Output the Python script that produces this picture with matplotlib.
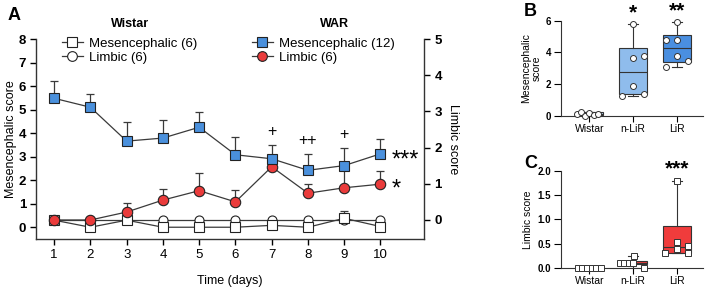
import numpy as np
import matplotlib
matplotlib.use("Agg")
import matplotlib.pyplot as plt
from matplotlib.lines import Line2D

plt.rcParams['font.family'] = ['Liberation Sans', 'DejaVu Sans']

# ---- Panel A data ----
days = [1, 2, 3, 4, 5, 6, 7, 8, 9, 10]
war_mes = [5.48, 5.10, 3.66, 3.79, 4.25, 3.08, 2.91, 2.42, 2.62, 3.12]
war_mes_err = [0.74, 0.55, 0.83, 0.75, 0.64, 0.74, 0.57, 0.69, 0.76, 0.61]
war_lim = [0.0, 0.0, 0.22, 0.55, 0.81, 0.50, 1.47, 0.74, 0.89, 0.99]
war_lim_err = [0.0, 0.0, 0.24, 0.30, 0.50, 0.32, 0.23, 0.25, 0.55, 0.36]
wis_mes = [0.30, 0.0, 0.30, 0.0, 0.0, 0.0, 0.08, 0.0, 0.38, 0.03]
wis_mes_err = [0.0, 0.0, 0.05, 0.0, 0.0, 0.0, 0.10, 0.0, 0.32, 0.0]
wis_lim = [0, 0, 0, 0, 0, 0, 0, 0, 0, 0]
wis_lim_err = [0, 0, 0, 0, 0, 0, 0, 0, 0, 0]
plus_marks = {7: '+', 8: '++', 9: '+'}

# ---- Panel B / C data ----
groups = ['Wistar', 'n-LiR', 'LiR']
mes_wistar = [0.10, 0.25, 0.0, 0.20, 0.05, 0.10]
mes_nlir = [5.8, 3.65, 3.75, 1.9, 1.25, 1.4]
mes_lir = [5.9, 4.8, 4.8, 3.8, 3.45, 3.1]
lim_wistar = [0, 0, 0, 0, 0, 0]
lim_nlir = [0.1, 0.1, 0.1, 0.1, 0.25, 0.0]
lim_lir = [1.8, 0.54, 0.39, 0.45, 0.30, 0.30]
stars_b = ['', '*', '**']
stars_c = ['', '', '***']

# horizontal scatter offsets of the dots (layout only)
jit_b = [[-0.29, -0.19, -0.09, 0.0, 0.10, 0.20],
         [0.0, 0.0, 0.25, 0.0, -0.25, 0.25],
         [0.0, -0.25, 0.0, 0.0, 0.25, -0.25]]
jit_c = [[-0.27, -0.16, -0.05, 0.05, 0.16, 0.27],
         [-0.30, -0.20, -0.10, 0.0, 0.02, 0.26],
         [0.0, 0.0, 0.0, 0.25, -0.26, 0.25]]

BLUE = '#4a90dc'
RED = '#ea3b3b'
LINE = '#3a3a3a'

fig = plt.figure(figsize=(7.09, 2.88), dpi=100)

# ================= Panel A =================
axA = fig.add_axes([36/709, 49/288, 388/709, 200/288])
axA2 = axA.twinx()
axA.set_zorder(axA2.get_zorder() + 1)
axA.patch.set_visible(False)

axA.set_xlim(0.5, 11.2)
axA.set_ylim(-0.5, 8)
axA2.set_ylim(-0.525, 5)

def series(vals, err, trans, marker, face, ms, z):
    zeros = [0] * len(err)
    axA.errorbar(days, vals, yerr=[zeros, err], fmt='none', ecolor=LINE,
                 elinewidth=0.9, capsize=3, capthick=0.9, transform=trans,
                 zorder=z - 0.5, clip_on=False)
    axA.plot(days, vals, color=LINE, lw=0.9, marker=marker, ms=ms,
             mfc=face, mec='#222222', mew=0.8, transform=trans, zorder=z,
             clip_on=False)

series(wis_lim, wis_lim_err, axA2.transData, 'o', 'white', 6.5, 2)
series(wis_mes, wis_mes_err, axA.transData, 's', 'white', 6.5, 3)
series(war_lim, war_lim_err, axA2.transData, 'o', RED, 7.5, 4)
series(war_mes, war_mes_err, axA.transData, 's', BLUE, 7, 5)

for d, s in plus_marks.items():
    i = days.index(d)
    axA.text(d, war_mes[i] + war_mes_err[i] + 0.25, s, ha='center', va='bottom',
             fontsize=11.5)

axA.text(10.3, war_mes[-1] - 0.28, '***', fontsize=17, ha='left', va='center')
axA2.text(10.3, war_lim[-1] - 0.16, '*', fontsize=17, ha='left', va='center')

axA.set_xticks(days)
axA.set_yticks(range(0, 9))
axA2.set_yticks(range(0, 6))
for lab in axA.get_yticklabels() + axA2.get_yticklabels():
    lab.set_fontweight('bold')
axA.tick_params(axis='y', labelsize=9.5, width=1, length=4, pad=3)
axA.tick_params(axis='x', labelsize=9.5, width=1, length=4)
axA2.tick_params(axis='y', labelsize=9.5, width=1, length=4)
axA.spines['top'].set_visible(False)
axA2.spines['top'].set_visible(False)
axA.spines['right'].set_visible(False)
axA2.spines['left'].set_visible(False)
axA2.spines['bottom'].set_visible(False)
for sp in ['left', 'bottom']:
    axA.spines[sp].set_linewidth(1)
    axA.spines[sp].set_color('#333333')
axA2.spines['right'].set_linewidth(1)
axA2.spines['right'].set_color('#333333')

axA.set_ylabel('Mesencephalic score', fontsize=9, labelpad=1)
axA2.set_ylabel('Limbic score', fontsize=9, rotation=270, labelpad=12)
axA.set_xlabel('Time (days)', fontsize=9, labelpad=10)

def handle(marker, face):
    return Line2D([0], [0], color=LINE, lw=0.9, marker=marker, ms=7,
                  mfc=face, mec='#222222', mew=0.8)

leg1 = axA.legend([handle('s', 'white'), handle('o', 'white')],
                  ['Mesencephalic (6)', 'Limbic (6)'],
                  loc='upper left', bbox_to_anchor=(55/709, 1 - 31/288),
                  bbox_transform=fig.transFigure, frameon=False, fontsize=9.5,
                  handlelength=1.6, handletextpad=0.5, labelspacing=0.12,
                  borderpad=0)
axA.add_artist(leg1)
axA.legend([handle('s', BLUE), handle('o', RED)],
           ['Mesencephalic (12)', 'Limbic (6)'],
           loc='upper left', bbox_to_anchor=(245/709, 1 - 31/288),
           bbox_transform=fig.transFigure, frameon=False, fontsize=9.5,
           handlelength=1.6, handletextpad=0.5, labelspacing=0.12,
           borderpad=0)
fig.text(130/709, 1 - 24/288, 'Wistar', fontsize=9, fontweight='bold',
         ha='center', va='center')
fig.text(334/709, 1 - 24/288, 'WAR', fontsize=9, fontweight='bold',
         ha='center', va='center')

fig.text(8/709, 1 - 15/288, 'A', fontsize=13, fontweight='bold', va='center')

# ================= Panels B and C =================
def box_panel(rect, data, jit, colors, marker, ylim, yticks, ytfmt, ylabel,
              stars, letter, letter_y):
    ax = fig.add_axes(rect)
    pos = [0, 1, 2]
    stats = []
    for vals in data:
        q1, med, q3 = np.percentile(vals, [25, 50, 75], method='weibull')
        stats.append(dict(med=med, q1=q1, q3=q3, whislo=min(vals),
                          whishi=max(vals), fliers=[]))
    bp = ax.bxp(stats, positions=pos, widths=0.64, patch_artist=True,
                showfliers=False, manage_ticks=False,
                boxprops=dict(lw=0.8, edgecolor='#333333'),
                medianprops=dict(color='#333333', lw=0.8),
                whiskerprops=dict(color='#333333', lw=0.8),
                capprops=dict(color='#333333', lw=0.8), capwidths=0.22)
    for patch, c in zip(bp['boxes'], colors):
        patch.set_facecolor(c)
    for p, vals, offs in zip(pos, data, jit):
        ax.plot(np.array(offs) + p, vals, ls='none', marker=marker, ms=4.3,
                mfc='white', mec='#333333', mew=0.7, clip_on=False, zorder=4)
    for p, vals, s in zip(pos, data, stars):
        if s:
            ax.text(p, max(vals) + (ylim[1] - ylim[0]) * 0.02, s, ha='center',
                    va='bottom', fontsize=15, fontweight='bold')
    ax.set_xlim(-0.65, 2.6)
    ax.set_ylim(*ylim)
    ax.set_yticks(yticks)
    ax.set_yticklabels([ytfmt.format(t) for t in yticks], fontweight='bold')
    ax.set_xticks(pos)
    ax.set_xticklabels(groups)
    ax.tick_params(axis='y', labelsize=7, width=0.8, length=5, pad=2)
    ax.tick_params(axis='x', labelsize=7.5, width=0.8, length=4, pad=2)
    ax.spines['top'].set_visible(False)
    ax.spines['right'].set_visible(False)
    for sp in ['left', 'bottom']:
        ax.spines[sp].set_linewidth(0.8)
        ax.spines[sp].set_color('#333333')
    ax.set_ylabel(ylabel, fontsize=7.5, labelpad=3, linespacing=1.1)
    fig.text(524/709, 1 - letter_y/288, letter, fontsize=13, fontweight='bold',
             va='center')
    return ax

box_panel([561/709, 1 - 115.7/288, 142/709, 95/288],
          [mes_wistar, mes_nlir, mes_lir], jit_b,
          ['#b0d0f2', '#8fbcec', '#4a8fe0'], 'o', (0, 6), [0, 2, 4, 6], '{:d}',
          'Mesencephalic\nscore', stars_b, 'B', 12)
box_panel([561/709, 1 - 267.7/288, 142/709, 96.7/288],
          [lim_wistar, lim_nlir, lim_lir], jit_c,
          ['#f4a0a0', '#ea3b3b', '#f03c3c'], 's', (0, 2),
          [0.0, 0.5, 1.0, 1.5, 2.0], '{:.1f}', 'Limbic score', stars_c, 'C', 163)

fig.savefig('out.png', dpi=100)
